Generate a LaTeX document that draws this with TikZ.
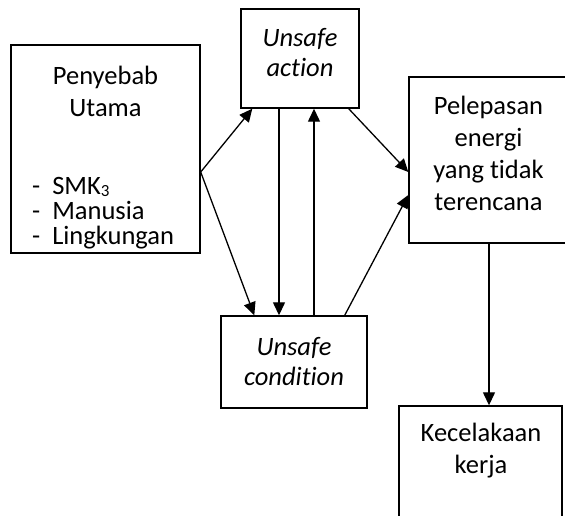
\documentclass[tikz,border=0pt]{standalone}
\usepackage{fontspec}
\setmainfont{Carlito}[Ligatures={NoCommon}]
\usetikzlibrary{arrows.meta,calc}
\tikzset{
  box/.style={draw, line width=1.4pt, rectangle, inner sep=0pt},
  txt/.style={inner sep=0pt, align=center, font=\fontsize{26.5}{32}\selectfont},
  arr/.style={line width=1.3pt, -{Triangle[length=13pt,width=12pt]}}
}
\begin{document}
\begin{tikzpicture}[x=1pt,y=-1pt]
\clip (0,0) rectangle (565,515);
\fill[white] (0,0) rectangle (565,515);
% boxes
\node[box, minimum width=189pt, minimum height=208pt] (pen) at (105.5,149) {};
\node[box, minimum width=118pt, minimum height=99pt] (ua) at (300,58.5) {};
\node[box, minimum width=160pt, minimum height=166pt] (pel) at (489,160) {};
\node[box, minimum width=146pt, minimum height=92pt] (uc) at (294,362) {};
\node[box, minimum width=163pt, minimum height=130pt] (kec) at (480.5,471) {};
% texts
\node[txt] (penT) at (105.5,91) {Penyebab\\Utama};
\node[txt, align=left, anchor=west, font=\fontsize{26.5}{25}\selectfont] (penL) at (32,213)
  {-\hspace{12pt}SMK{\fontsize{17}{17}\selectfont\raisebox{-2pt}{3}}\\-\hspace{12pt}Manusia\\-\hspace{12pt}Lingkungan};
\node[txt, font=\fontsize{26.5}{30}\selectfont\itshape] (uaT) at (300,53) {Unsafe\\action};
\node[txt] (pelT) at (488.5,153) {Pelepasan\\energi\\yang tidak\\terencana};
\node[txt, font=\fontsize{26.5}{30}\selectfont\itshape] (ucT) at (294,362) {Unsafe\\condition};
\node[txt] (kecT) at (481,451) {Kecelakaan\\kerja};
% connectors
\coordinate (src) at ($(pen.east)+(0,23)$);
\draw[arr] (src) -- ($(ua.south west)+(12,0)$);
\draw[arr] (src) -- ($(uc.north west)+(34,0)$);
\draw[arr] ($(ua.south)+(-21,0)$) -- ($(uc.north)+(-15,0)$);
\draw[arr] ($(uc.north)+(20,0)$) -- ($(ua.south)+(14,0)$);
\draw[arr] ($(ua.south east)+(-11,0)$) -- ($(pel.west)+(0,12)$);
\draw[arr] ($(uc.north east)+(-23,0)$) -- ($(pel.west)+(0,35)$);
\draw[arr] (pel.south) -- (pel.south |- kec.north);
\end{tikzpicture}
\end{document}
